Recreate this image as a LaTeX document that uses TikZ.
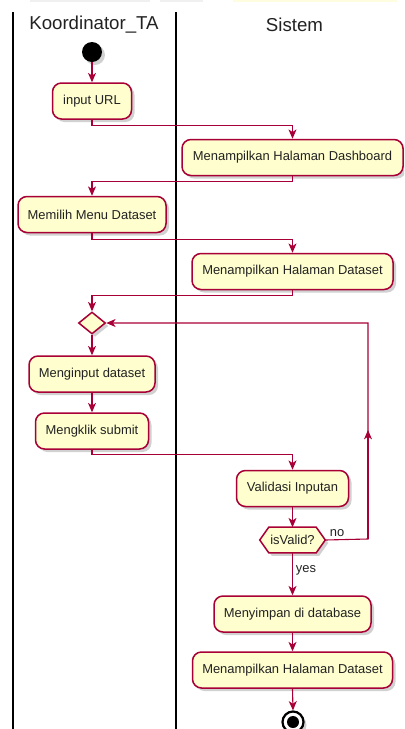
\documentclass[tikz,border=0pt]{standalone}
\usepackage{fontspec}
\setmainfont{Liberation Sans}
\usetikzlibrary{arrows.meta,shapes.geometric,shadows}
\definecolor{umlred}{HTML}{A80036}
\definecolor{umlfill}{HTML}{FEFECE}
\definecolor{umltext}{HTML}{222222}
\newcommand\pxu{0.75pt}
\tikzset{
  softshadow/.style={drop shadow={shadow xshift=3*\pxu, shadow yshift=-3*\pxu, fill=black, opacity=0.18}},
  action/.style={rectangle, rounded corners=9*\pxu, draw=umlred, fill=umlfill,
    line width=1.5*\pxu, minimum height=36*\pxu, inner sep=0pt,
    font=\fontsize{9.7pt}{11.5pt}\selectfont, text=umltext, softshadow},
  flow/.style={draw=umlred, line width=1.1*\pxu,
    -{Stealth[length=7pt,width=6pt,inset=2pt]}},
  lane/.style={draw=black, line width=2*\pxu},
  lanetitle/.style={font=\fontsize{14pt}{16pt}\selectfont, text=umltext},
  guard/.style={font=\fontsize{9.7pt}{11.5pt}\selectfont, text=umltext, inner sep=0pt},
}
\begin{document}
\begin{tikzpicture}[x=0.75pt, y=-0.75pt]
  \clip (0,0) rectangle (404,729);
  \fill[white] (0,0) rectangle (404,729);

  % faint strip along the top edge
  \fill[black!6] (30,0) rectangle (150,1.5);
  \fill[black!6] (160,0) rectangle (203,1.5);
  \fill[yellow!12] (233,0) rectangle (397,1.5);

  % swimlanes
  \draw[lane] (13,12) -- (13,729);
  \draw[lane] (176,12) -- (176,729);
  \node[lanetitle] (laneA) at (94,25) {Koordinator\_TA};
  \node[lanetitle] (laneB) at (294.5,25) {Sistem};

  % start
  \node[circle, fill=black, minimum size=20*\pxu, inner sep=0pt, softshadow] (start) at (92,52) {};

  % activities
  \node[action, minimum width=79*\pxu]  (url)    at (92,101)    {input URL};
  \node[action, minimum width=221*\pxu] (dash)   at (292.5,157.5) {Menampilkan Halaman Dashboard};
  \node[action, minimum width=148*\pxu] (menu)   at (92,214.5)  {Memilih Menu Dataset};
  \node[action, minimum width=201*\pxu] (dsa)    at (292.5,271.5) {Menampilkan Halaman Dataset};
  \node[diamond, aspect=1.227, minimum width=27*\pxu, minimum height=22*\pxu, inner sep=0pt,
        draw=umlred, fill=umlfill, line width=1.5*\pxu, softshadow] (merge) at (92,323) {};
  \node[action, minimum width=126*\pxu] (input)  at (92,374)    {Menginput dataset};
  \node[action, minimum width=113*\pxu] (submit) at (92,431)    {Mengklik submit};
  \node[action, minimum width=112*\pxu] (valid)  at (292.5,488.5) {Validasi Inputan};

  % decision
  \node[guard, minimum width=65*\pxu, minimum height=25*\pxu] (check) at (292.5,540) {};
  \filldraw[draw=umlred, fill=umlfill, line width=1.5*\pxu, softshadow]
    (check.west) -- ([xshift=9*\pxu]check.north west) -- ([xshift=-9*\pxu]check.north east)
    -- (check.east) -- ([xshift=-9*\pxu]check.south east) -- ([xshift=9*\pxu]check.south west) -- cycle;
  \node[guard] (checklbl) at (check) {isValid?};

  \node[action, minimum width=157*\pxu] (save)   at (292.5,614) {Menyimpan di database};
  \node[action, minimum width=200*\pxu] (dsb)    at (292.5,670) {Menampilkan Halaman Dataset};

  % end
  \node[circle, draw=black, fill=white, line width=2.2*\pxu, minimum size=21*\pxu, inner sep=0pt, softshadow] (stop) at (293,722) {};
  \node[circle, fill=black, minimum size=12*\pxu, inner sep=0pt] (stopdot) at (stop) {};

  % loop coordinates
  \coordinate (loopbot) at (368,539);
  \coordinate (looptop) at (368,323);
  \coordinate (loopmid) at (368,430);

  % connectors
  \draw[flow] (start) -- (url);
  \draw[flow] (url.south) -- ++(0,6) -| (dash.north);
  \draw[flow] (dash.south) -- ++(0,5) -| (menu.north);
  \draw[flow] (menu.south) -- ++(0,6) -| (dsa.north);
  \draw[flow] (dsa.south) -- ++(0,5) -| (merge.north);
  \draw[flow] (merge.south) -- (input.north);
  \draw[flow] (input.south) -- (submit.north);
  \draw[flow] (submit.south) -- ++(0,5) -| (valid.north);
  \draw[flow] (valid.south) -- (check.north);
  \draw[flow] (check.east) -- (loopbot) -- (looptop) -- (merge.east);
  \draw[flow] (loopbot) -- (loopmid);
  \draw[flow] (check.south) -- (save.north);
  \draw[flow] (save.south) -- (dsb.north);
  \draw[flow] (dsb.south) -- (stop.north);

  % guards
  \node[guard] (nolbl)  at (337,533) {no};
  \node[guard] (yeslbl) at (306,570) {yes};
\end{tikzpicture}
\end{document}
